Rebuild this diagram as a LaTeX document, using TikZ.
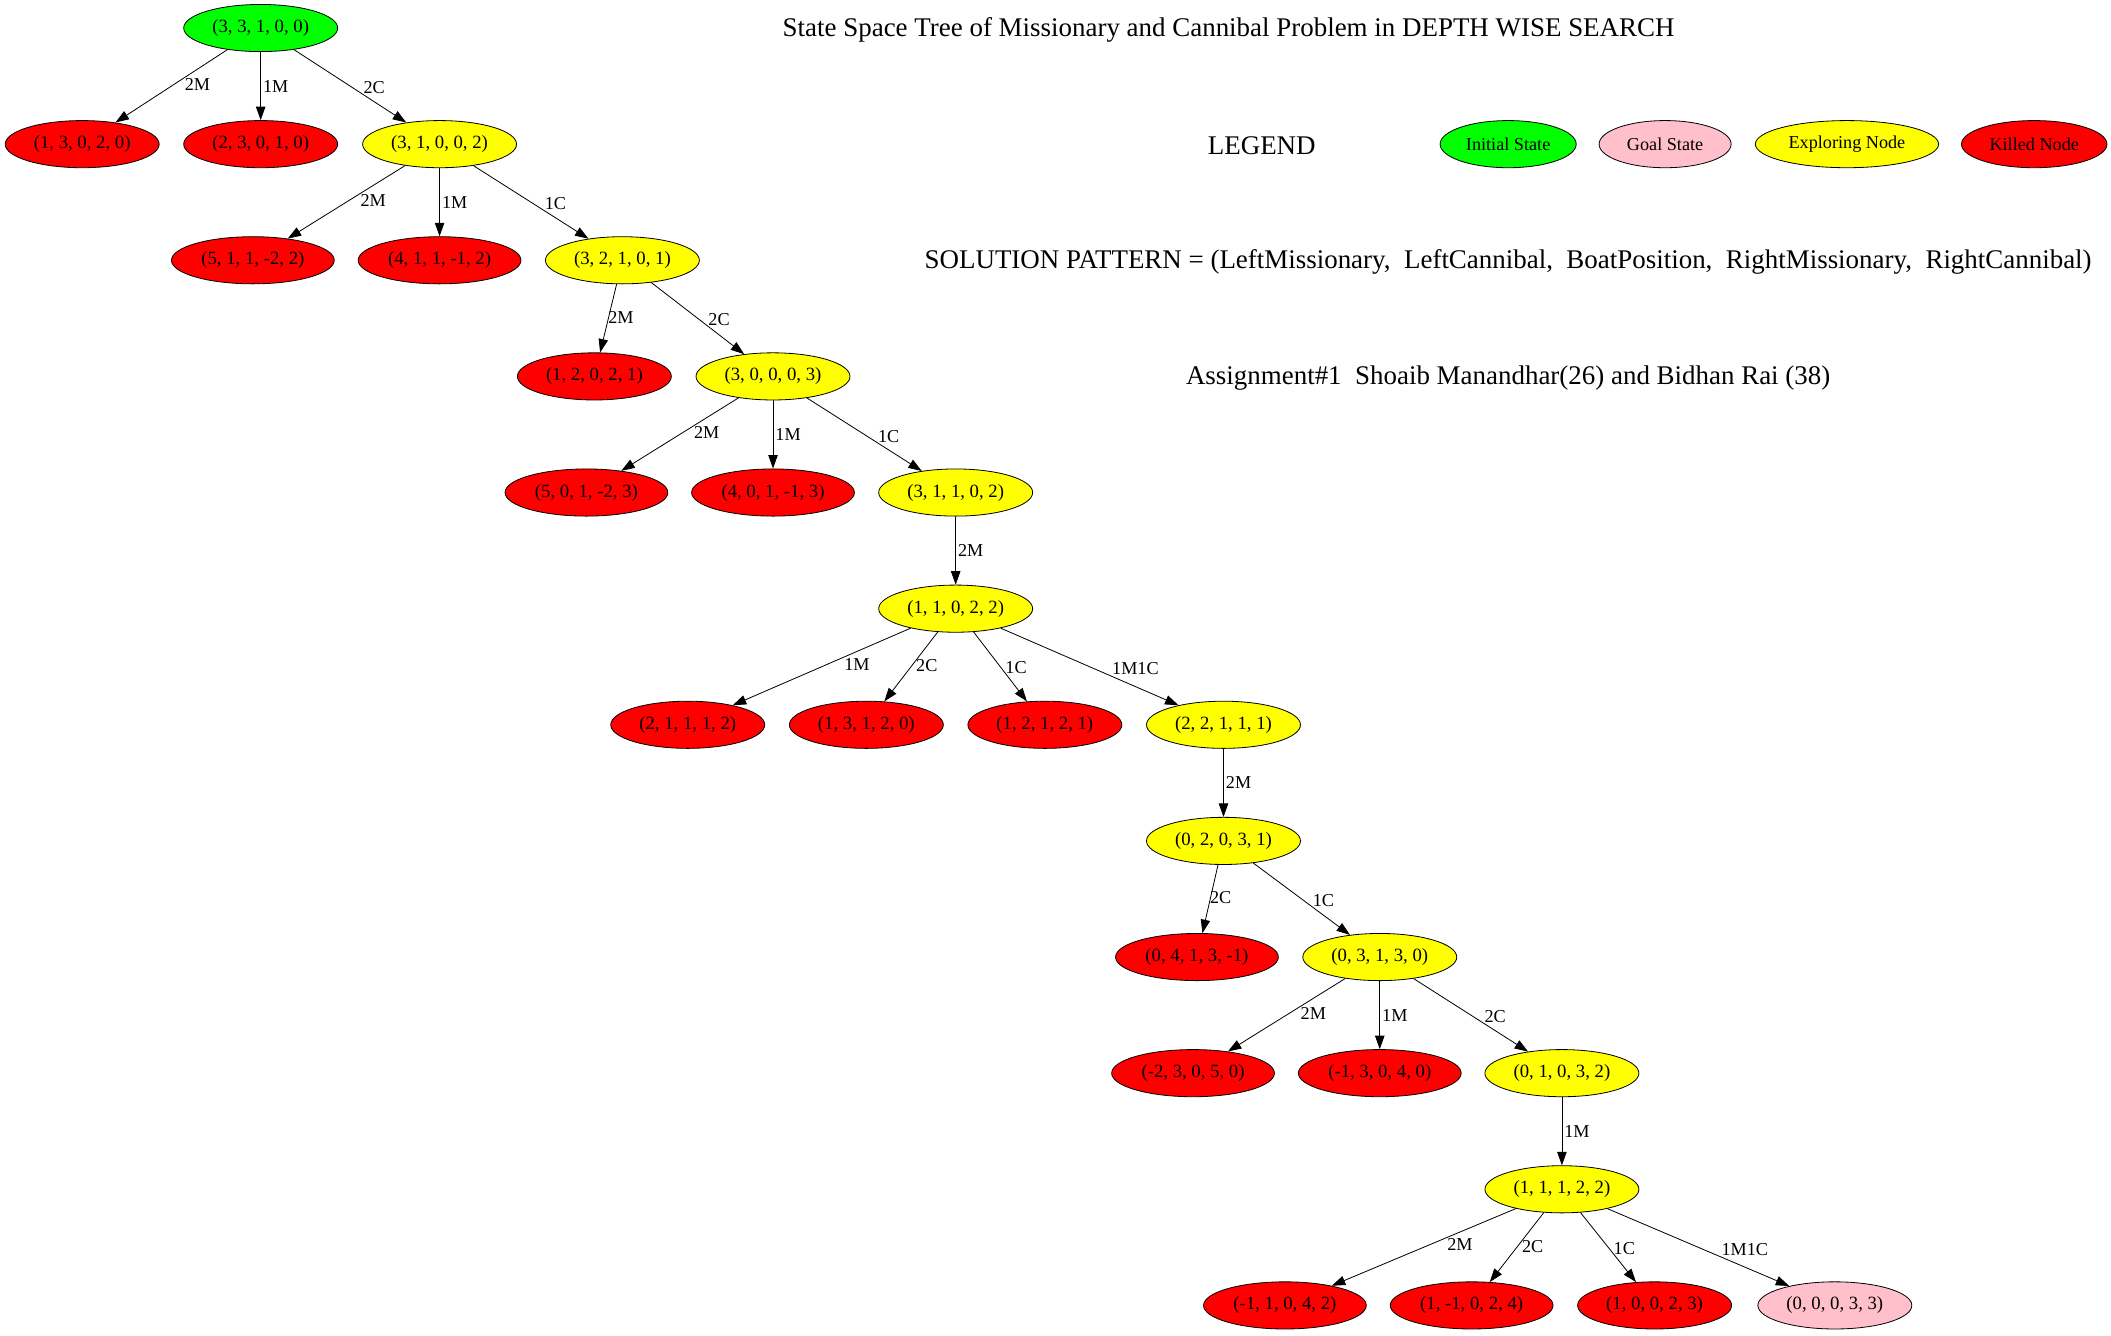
\documentclass[tikz,border=0pt]{standalone}
\usepackage{fontspec}
\setmainfont{Liberation Serif}
\usetikzlibrary{shapes.geometric, arrows.meta}
\definecolor{rosa}{HTML}{FFC0CB}
\definecolor{verde}{HTML}{00FF00}
\definecolor{rosso}{HTML}{FF0000}
\definecolor{giallo}{HTML}{FFFF00}

\begin{document}
\begin{tikzpicture}[x=1pt, y=-1pt,
    stato/.style={ellipse, draw=black, line width=0.6pt, inner xsep=4.5pt, inner ysep=0pt,
        minimum height=35pt, font=\fontsize{13.9}{15}\selectfont},
    iniziale/.style={stato, fill=verde},
    esplora/.style={stato, fill=giallo},
    ucciso/.style={stato, fill=rosso},
    obiettivo/.style={stato, fill=rosa},
    voce/.style={ellipse, draw=black, line width=0.6pt, inner sep=0pt, minimum height=35pt,
        font=\fontsize{13.5}{15}\selectfont},
    mossa/.style={-{Triangle[length=10pt,width=7pt]}, line width=0.6pt},
    etic/.style={inner sep=1.5pt, font=\fontsize{13.5}{15}\selectfont},
    sx/.style={etic, pos=0.36, anchor=north west, xshift=-3.5pt},
    dx/.style={etic, pos=0.64, anchor=south west, xshift=-3.5pt},
    giu/.style={etic, midway, anchor=west},
    testo/.style={font=\fontsize{20}{24}\selectfont}
]
    \useasboundingbox (0,0) rectangle (1567,991);

    % === Testi ===
    \node[testo] (titolo) at (912, 22.5) {State Space Tree of Missionary and Cannibal Problem in DEPTH WISE SEARCH};
    \node[testo] (legenda) at (936.6, 108) {LEGEND};
    \node[testo] (schema) at (1119.5, 194.5) {SOLUTION PATTERN = (LeftMissionary,\ \ LeftCannibal,\ \ BoatPosition,\ \ RightMissionary,\ \ RightCannibal)};
    \node[testo] (autori) at (1119.5, 281) {Assignment\#1\ \ Shoaib Manandhar(26) and Bidhan Rai (38)};

    % Legenda
    \node[voce, fill=verde, minimum width=101pt] (lgA) at (1119.5, 107) {Initial State};
    \node[voce, fill=rosa, minimum width=98pt] (lgB) at (1236, 107) {Goal State};
    \node[voce, fill=giallo, minimum width=136pt] (lgC) at (1371, 107) {Exploring Node};
    \node[voce, fill=rosso, minimum width=108pt] (lgD) at (1510, 107) {Killed Node};

    % === Albero ===
    \node[iniziale] (r0) at (193.5, 20.8) {(3, 3, 1, 0, 0)};

    \node[ucciso] (r1a) at (61, 107) {(1, 3, 0, 2, 0)};
    \node[ucciso] (r1b) at (193.5, 107) {(2, 3, 0, 1, 0)};
    \node[esplora] (r1c) at (326.3, 107) {(3, 1, 0, 0, 2)};

    \node[ucciso] (r2a) at (187.7, 193.2) {(5, 1, 1, -2, 2)};
    \node[ucciso] (r2b) at (326.3, 193.2) {(4, 1, 1, -1, 2)};
    \node[esplora] (r2c) at (462, 193.2) {(3, 2, 1, 0, 1)};

    \node[ucciso] (r3a) at (441.2, 279.4) {(1, 2, 0, 2, 1)};
    \node[esplora] (r3b) at (573.8, 279.4) {(3, 0, 0, 0, 3)};

    \node[ucciso] (r4a) at (435.3, 365.6) {(5, 0, 1, -2, 3)};
    \node[ucciso] (r4b) at (573.8, 365.6) {(4, 0, 1, -1, 3)};
    \node[esplora] (r4c) at (709.4, 365.6) {(3, 1, 1, 0, 2)};

    \node[esplora] (r5) at (709.4, 451.8) {(1, 1, 0, 2, 2)};

    \node[ucciso] (r6a) at (510.5, 538) {(2, 1, 1, 1, 2)};
    \node[ucciso] (r6b) at (643.1, 538) {(1, 3, 1, 2, 0)};
    \node[ucciso] (r6c) at (775.6, 538) {(1, 2, 1, 2, 1)};
    \node[esplora] (r6d) at (908.2, 538) {(2, 2, 1, 1, 1)};

    \node[esplora] (r7) at (908.2, 624.2) {(0, 2, 0, 3, 1)};

    \node[ucciso] (r8a) at (888.5, 710.4) {(0, 4, 1, 3, -1)};
    \node[esplora] (r8b) at (1024.2, 710.4) {(0, 3, 1, 3, 0)};

    \node[ucciso] (r9a) at (885.6, 796.6) {(-2, 3, 0, 5, 0)};
    \node[ucciso] (r9b) at (1024.2, 796.6) {(-1, 3, 0, 4, 0)};
    \node[esplora] (r9c) at (1159.4, 796.6) {(0, 1, 0, 3, 2)};

    \node[esplora] (r10) at (1159.4, 882.8) {(1, 1, 1, 2, 2)};

    \node[ucciso] (r11a) at (953.8, 969) {(-1, 1, 0, 4, 2)};
    \node[ucciso] (r11b) at (1092.4, 969) {(1, -1, 0, 2, 4)};
    \node[ucciso] (r11c) at (1228.2, 969) {(1, 0, 0, 2, 3)};
    \node[obiettivo] (r11d) at (1362, 969) {(0, 0, 0, 3, 3)};

    % Mosse
    \draw[mossa] (r0) -- node[sx] {2M} (r1a);
    \draw[mossa] (r0) -- node[giu] {1M} (r1b);
    \draw[mossa] (r0) -- node[dx] {2C} (r1c);

    \draw[mossa] (r1c) -- node[sx] {2M} (r2a);
    \draw[mossa] (r1c) -- node[giu] {1M} (r2b);
    \draw[mossa] (r1c) -- node[dx] {1C} (r2c);

    \draw[mossa] (r2c) -- node[sx] {2M} (r3a);
    \draw[mossa] (r2c) -- node[dx] {2C} (r3b);

    \draw[mossa] (r3b) -- node[sx] {2M} (r4a);
    \draw[mossa] (r3b) -- node[giu] {1M} (r4b);
    \draw[mossa] (r3b) -- node[dx] {1C} (r4c);

    \draw[mossa] (r4c) -- node[giu] {2M} (r5);

    \draw[mossa] (r5) -- node[sx] {1M} (r6a);
    \draw[mossa] (r5) -- node[sx] {2C} (r6b);
    \draw[mossa] (r5) -- node[dx] {1C} (r6c);
    \draw[mossa] (r5) -- node[dx] {1M1C} (r6d);

    \draw[mossa] (r6d) -- node[giu] {2M} (r7);

    \draw[mossa] (r7) -- node[sx] {2C} (r8a);
    \draw[mossa] (r7) -- node[dx] {1C} (r8b);

    \draw[mossa] (r8b) -- node[sx] {2M} (r9a);
    \draw[mossa] (r8b) -- node[giu] {1M} (r9b);
    \draw[mossa] (r8b) -- node[dx] {2C} (r9c);

    \draw[mossa] (r9c) -- node[giu] {1M} (r10);

    \draw[mossa] (r10) -- node[sx] {2M} (r11a);
    \draw[mossa] (r10) -- node[sx] {2C} (r11b);
    \draw[mossa] (r10) -- node[dx] {1C} (r11c);
    \draw[mossa] (r10) -- node[dx] {1M1C} (r11d);

\end{tikzpicture}
\end{document}
